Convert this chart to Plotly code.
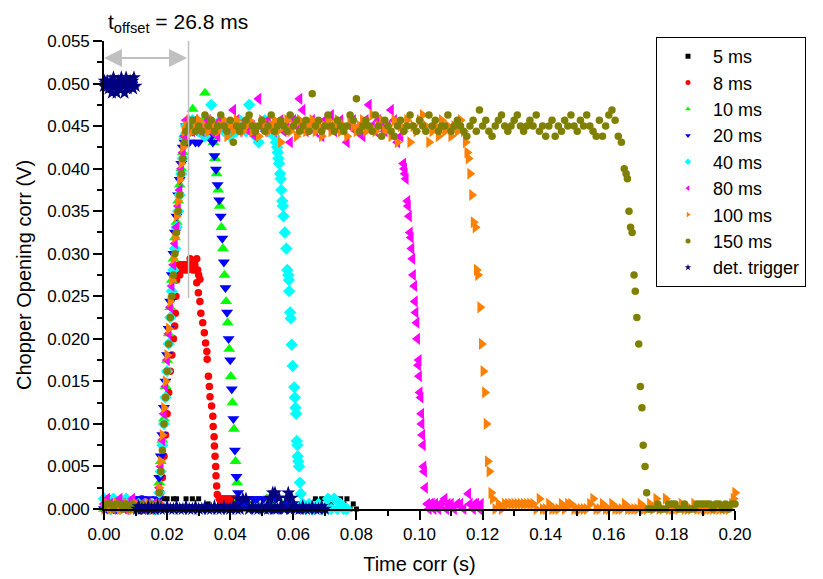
import plotly.graph_objects as go

# ---------------- data: (time in ms, signal in mV) ----------------
pts_5ms = [(0,0),(1,0.6),(2,0),(3,0),(4,0.6),(5,0),(6,0),(7,0.6),(8,0),(9,0),(10,0),(11,0.6),(12,0),(13,0),(14,0),(15,0.6),
    (16,0),(17,0),(18,0),(19,1.2),(20,1.2),(21,0),(22,1.2),(23,1.2),(24,0),(25,0),(26,1.2),(27,0),(28,1.2),(29,0),(30,1.2),
    (31,0),(32,0),(33,0.6),(34,0),(35,0),(36,0),(37,0.6),(38,0),(39,0),(40,0),(41,0),(42,0.6),(43,0),(44,0),(45,0),(46,0),
    (47,0.6),(48,0),(49,0),(50,0),(51,0),(52,0.6),(53,0),(54,0),(55,0),(56,0),(57,0),(58,0.6),(59,0),(60,0),(61,0),(62,0),
    (63,0),(64,0.6),(65,0),(66,0),(67,1.2),(68,0.6),(69,1.2),(70,0),(71,1.2),(72,0.6),(73,1.2),(74,0),(75,1.2),(76,0.6),
    (77,1.2),(78,0),(79,0.6),(80,0)]

pts_8ms = [(0,1.2),(1,0.6),(2,1.2),(3,0),(4,0.6),(5,0),(6,0.6),(7,0),(8,0.6),(9,0),(10,0.6),(11,0),(12,1.2),(13,0.6),(14,0),
    (15,0.6),(16,0),(17,0.6),(17.5,0.6),(18,1.9),(18.5,3.7),(19,6.2),(19.5,8.7),(20,11.2),(20.5,13.7),(21,16.2),(21.5,18.1),
    (22,20.0),(22.4,21.5),(22.6,23.0),(22.8,25.0),(23.0,26.9),(23.3,27.5),(23.6,28.1),(23.8,28.7),(24.0,27.5),(24.3,28.7),
    (24.5,28.1),(25.1,28.7),(25.5,28.1),(25.8,28.7),(26.0,28.7),(26.3,28.7),(26.5,28.1),(27.0,28.7),(27.3,29.4),(27.7,28.7),
    (28.2,28.1),(28.8,28.7),(29.0,28.1),(29.4,29.4),(29.7,28.1),(30.0,27.5),(30.4,27.0),
    (29.4,26.6),(29.9,25.4),(30.4,24.4),(30.7,23.0),(31.3,21.9),(31.8,20.7),(32.2,19.5),(32.6,18.5),(32.7,17.6),(33.1,15.6),
    (33.4,14.4),(33.6,13.2),(34.1,12.1),(34.5,10.9),(34.6,9.7),(34.9,8.5),(35.0,7.4),(35.2,6.2),(35.4,5.0),(35.5,3.9),
    (35.7,2.7),(35.9,1.7),(36.5,1.2),(37,0.6),(37.5,1.2),(38,0),(38.5,1.2),(39,0.6),(39.5,1.2),(40,0),(40.5,1.2),(41,0.6),(41.5,1.2)]

pts_10ms = [(0,0),(1,0.6),(2,0),(3,0),(4,0.6),(5,0),(6,0),(7,0),(8,0.6),(9,0),(10,0),(11,0),(12,0.6),(13,0),(14,0),(15,0.6),
    (16,0),(17.0,0.6),(17.5,3.1),(18.0,5.6),(18.5,8.1),(19.0,10.6),(19.5,14.4),(20.0,17.5),(20.5,20.6),(21.0,23.7),(21.5,26.9),
    (22.0,29.4),(22.5,31.9),(23.0,33.7),(23.5,36.2),(24.0,38.1),(24.5,40.0),(25.0,41.9),(25.5,43.8),
    (26.0,44.4),(26.5,45.0),(27.0,45.7),(27.5,44.4),(28.1,47.0),(28.5,45.0),(29.0,44.4),(29.5,45.7),(30.0,45.0),(30.5,44.4),
    (31.0,45.0),(31.5,45.7),(32.0,48.9),(32.5,45.0),(33.0,44.4),(33.5,43.8),(34.0,43.8),
    (34.7,43.1),(35.2,41.2),(35.7,39.4),(36.2,37.5),(36.7,35.6),(37.2,33.1),(37.7,30.6),(38.2,27.5),(38.7,24.4),(39.2,21.9),
    (39.7,18.8),(40.2,15.6),(40.7,12.5),(41.2,9.4),(41.7,5.6),(42.2,3.1),(42.7,1.2),
    (43.5,0.6),(44.5,0),(45.5,0.6),(46.5,0),(47.5,0),(48.5,0.6),(49.5,0),(50.5,0),(51.6,1.2),(52.5,0),(53.5,0.6),(54.5,0),
    (55.5,0),(56.5,0.6),(57.5,0),(58.5,0),(59.5,0.6)]

pts_20ms = [(0,0),(1,0),(2,0.6),(3,0),(4,0),(5,0),(6,0.6),(7,0),(8,0),(9,0.6),(10,1.2),(11,0.6),(12,1.2),(13,0.6),(14,1.2),
    (15,0.6),(16,0.6),(17.0,1.2),(17.5,3.7),(18.0,6.2),(18.5,8.7),(19.0,11.9),(19.5,15.0),(20.0,18.1),(20.5,21.2),(21.0,24.4),
    (21.5,27.5),(22.0,30.0),(22.5,32.5),(23.0,34.4),(23.5,36.9),(24.0,38.7),(24.5,40.6),(25.0,42.5),(25.5,43.1),
    (26.0,45.0),(26.5,44.4),(27.0,43.1),(27.5,45.0),(28.0,44.4),(28.5,45.7),(29.0,43.1),(29.5,44.4),(30.0,43.1),(30.5,45.0),
    (31.0,44.4),(31.5,43.8),(32.0,45.0),(32.5,44.4),(33.0,43.8),(33.5,44.4),(34.0,43.8),
    (34.5,43.1),(35.0,41.5),(35.5,39.9),(36.0,38.1),(36.5,36.3),(37.0,34.4),(37.5,31.8),(38.0,29.0),(38.5,26.0),(39.0,23.1),
    (39.5,20.0),(40.0,17.5),(40.5,14.1),(41.0,10.6),(41.5,6.9),(42.0,3.8),(42.5,1.9),(43.0,0.6),
    (43.5,1.2),(44.5,0.6),(45.5,1.2),(46.5,0),(47.5,1.2),(48.5,1.2),(49.5,0),(50.5,1.2),(51.5,0),(52.5,1.2),(53.5,0),
    (54.5,1.2),(55.5,0),(56.5,0),(57.5,0.6),(58.5,0),(59.5,0),(60.5,0.6),(61.5,0),(62.5,0)]

pts_40ms = [(0,1.2),(1,0.6),(2,0),(3,1.2),(4,0.6),(5,0),(6,0.6),(7,1.2),(8,0),(9,0.6),(10,0),(11,0.6),(12,0),(13,0.6),(14,0),
    (15,0.6),(16,0),(17.0,0),(17.5,1.9),(18.0,4.4),(18.5,7.5),(19.0,10.0),(19.5,13.1),(20.0,16.2),(20.5,19.4),(21.0,22.5),
    (21.5,25.6),(22.0,28.1),(22.5,30.6),(23.0,33.1),(23.5,35.0),(24.0,36.9),(24.5,39.4),(25.0,41.2),(25.5,43.8),
    (26,45.0),(27,44.4),(28,45.7),(29,45.0),(30,44.4),(31,45.0),(32,43.8),(33,45.7),(34,47.5),(35,44.4),(36,45.0),(37,45.7),
    (38,44.4),(39,45.0),(40,43.8),(41,45.0),(42,44.4),(43,45.7),(44,45.0),(45,44.4),(46,47.5),(47,45.0),(48,43.8),(49,43.1),
    (50,45.0),(51,45.7),(52,44.4),(53,45.0),(54,43.8),
    (54.5,43.1),(54.9,42.5),(55.1,41.9),(55.3,41.2),(55.5,40.6),(55.8,39.4),(56.0,38.8),(56.2,37.5),(56.5,36.2),(56.7,35.6),
    (56.9,34.4),(57.3,32.5),(57.8,30.6),(58.1,28.1),(58.4,27.5),(58.6,26.9),(58.7,25.6),(59.0,23.1),(59.2,22.4),(59.5,19.3),
    (59.8,16.8),(60.3,14.3),(60.5,13.1),(60.7,11.9),(60.9,11.2),(61.1,8.0),(61.3,7.5),(61.4,6.2),(61.6,5.6),(61.8,5.0),
    (62.1,3.1),(62.4,1.8),(63,0.6),(64,0),(65,0.6),(66,0),(67,0),(68,0.6),(69,0),(70,0),(71,1.2),(72,0),(73,1.2),(74,0),
    (75,0.6),(76,0),(77,0)]

pts_80ms = [(0,0.6),(1,1.2),(2,0.6),(3,0),(4,0.6),(5,1.2),(6,0.6),(7,0),(8,0.6),(9,1.2),(10,0.6),(11,0),(12,0.6),(13,0),
    (14,0.6),(15,0),(16,0.6),(17.0,0.6),(17.5,2.5),(18.0,5.0),(18.5,8.1),(19.0,11.2),(19.5,14.4),(20.0,17.5),(20.5,20.6),
    (21.0,23.7),(21.5,26.2),(22.0,28.7),(22.5,31.2),(23.0,33.1),(23.5,35.6),(24.0,37.5),(24.5,40.0),(25.0,41.9),(25.5,43.8),
    (26,45.7),(27,45.0),(28,44.4),(29,45.7),(30,45.0),(31,44.4),(32,45.0),(33,45.7),(34,44.4),(35,45.0),(36,43.8),(37,45.7),
    (38,45.0),(39,44.4),(40,45.0),(41,46.9),(42,45.7),(43,44.4),(44,45.0),(45,45.7),(46,44.4),(47,45.0),(48,43.8),(49,48.2),
    (50,45.0),(51,44.4),(52,45.7),(53,45.0),(54,44.4),(55,45.0),(56,45.7),(57,44.4),(58,45.0),(59,43.1),(60,45.7),(61,45.0),
    (62,48.2),(63,46.9),(64,44.4),(65,45.0),(66,45.7),(67,44.4),(68,45.0),(69,43.8),(70,45.7),(71,45.0),(72,46.3),(73,44.4),
    (74,45.0),(75,45.7),(76,44.4),(77,43.1),(78,45.0),(79,45.7),(80,44.4),(81,45.0),(82,43.8),(83,45.7),(84,47.5),(85,45.0),
    (86,44.4),(87,45.7),(88,45.0),(89,44.4),(90,45.0),(91,46.9),(92,45.7),(93,43.1),(94,43.8),
    (94.9,40.6),(95.2,40.0),(95.4,39.4),(95.7,38.8),(96.2,36.2),(96.4,35.6),(96.7,34.4),(97.0,32.5),(97.3,31.9),(97.5,30.6),
    (97.8,29.4),(98.0,27.5),(98.4,26.2),(98.6,24.4),(98.8,23.1),(99.1,21.9),(99.3,20.0),(99.6,16.9),(99.8,17.5),(99.9,15.6),
    (100.1,13.7),(100.4,13.1),(100.6,11.2),(100.7,10.0),(100.9,8.7),(101.1,7.5),(101.3,5.0),(101.5,4.4),(101.8,2.5),
    (102.5,0.6),(103,0),(103.5,0.6),(104,0.6),(104.5,0),(105,0.6),(106,0),(106.5,0.6),(107,0.6),(108,1.2),(108.5,0),
    (109,0.6),(110,0.6),(111,0),(112,0.6),(113,0.6),(114,0),(115.5,1.8),(116,0.6),(117,0),(117.5,0.6),(118,0.6),(119,0),
    (119.5,0.6)]

pts_100ms = [(0,0),(1,0.6),(2,0),(3,0),(4,0.6),(5,0),(6,0),(7,0.6),(8,0),(9,0),(10,0.6),(11,0),(12,0),(13,0),(14,0.6),(15,0),
    (16,0),(17.0,0),(17.5,2.5),(18.0,5.6),(18.5,8.7),(19.0,11.9),(19.5,15.0),(20.0,18.1),(20.5,21.2),(21.0,24.4),(21.5,26.9),
    (22.0,29.4),(22.5,31.9),(23.0,34.4),(23.5,36.2),(24.0,38.7),(24.5,40.6),(25.0,42.5),(25.5,44.4),
    (26,45.0),(27,45.7),(28,44.4),(29,45.0),(30,45.7),(31,44.4),(32,45.0),(33,44.4),(34,45.7),(35,45.0),(36,44.4),(37,45.0),
    (38,45.7),(39,43.8),(40,45.0),(41,44.4),(42,45.7),(43,45.0),(44,44.4),(45,45.0),(46,45.7),(47,44.4),(48,45.0),(49,43.8),
    (50,45.7),(51,45.0),(52,44.4),(53,45.0),(54,45.7),(55,44.4),(56,43.1),(57,45.0),(58,45.7),(59,44.4),(60,45.0),(61,43.8),
    (62,45.7),(63,45.0),(64,44.4),(65,45.0),(66,45.7),(67,44.4),(68,45.0),(69,43.8),(70,45.0),(71,45.7),(72,44.4),(73,45.0),
    (74,45.7),(75,44.4),(76,45.0),(77,43.8),(78,45.7),(79,45.0),(80,44.4),(81,45.0),(82,45.7),(83,44.4),(84,45.0),(85,46.3),
    (86,44.4),(87,45.0),(88,45.7),(89,44.4),(90,45.0),(91,43.8),(92,45.7),(93,43.1),(94,45.0),(95,44.4),(96,45.7),(97,43.1),
    (98,45.0),(99,44.4),(100,45.7),(101,46.3),(102,45.0),(103,43.1),(104,44.4),(105,45.0),(106,43.8),(107,45.7),(108,44.4),
    (109,45.0),(110,43.8),(111,45.0),(112,44.4),(113,45.7),(114,44.4),
    (114.6,43.1),(115.1,41.9),(115.5,41.2),(116.0,39.4),(116.6,36.9),(117.1,33.7),(117.7,33.1),(118.1,28.1),(118.5,27.5),
    (119.2,23.7),(119.7,19.4),(120.2,16.2),(120.7,13.7),(121.2,10.0),(121.6,5.6),(122.1,4.4),(122.7,1.9),(123.2,1.2),
    (124,0),(125,0.6),(126,0),(127,0.6),(128,0.6),(129,0.6),(130,0.6),(131,0.6),(132,0.6),(133,0.6),(134,0.6),(135,0.6),
    (136,0.6),(137,0),(138,1.2),(139,0),(140,0),(141,0.6),(142,0),(143,0),(144,0),(145,0.6),(146,0),(147,0.6),(148,0.6),
    (149,0),(150,0),(151,0),(152,0),(153,0),(154,0.6),(155,1.2),(156,0),(157,0),(158,0.6),(159,0),(160,0),(161,0.6),(162,0),
    (163,0),(164,0),(165,0.6),(166,0),(167,0),(168,0),(169,0),(170,0.6),(171,0),(172,0),(173,0.6),(174,0),(175,1.2),(176,0),
    (177,0),(178,1.2),(179,0),(180,0),(181,0),(182,0),(183,0.6),(184,0),(185,0),(186,0),(187,0.6),(188,0),(189,0),(190,0),
    (191,0),(192,0),(193,0),(194,0),(195,0),(196,0),(197,0),(198,0),(199,0.6),(199.5,1.2),(200,1.9)]

pts_150ms = [(0,0),(1,0.6),(2,0.6),(3,0),(4,0.6),(5,0.6),(6,0),(7,0.6),(8,0),(9,0.6),(10,0),(11,0),(12,0.6),(13,0),(14,0),
    (15,0.6),(16,0),(17.0,0.6),(17.5,1.9),(18.0,4.4),(18.5,6.9),(19.0,10.0),(19.5,13.1),(20.0,16.2),(20.5,19.4),(21.0,22.5),
    (21.5,25.0),(22.0,27.5),(22.5,30.0),(23.0,32.5),(23.5,35.0),(24.0,36.9),(24.5,39.4),(25.0,41.2),(25.5,43.1),
    (26,44.4),(27,45.0),(28,45.7),(29,44.4),(30,45.0),(31,44.4),(32,46.3),(33,45.0),(34,45.7),(35,44.4),(36,45.0),(37,46.3),
    (38,45.0),(39,44.4),(40,45.7),(41,43.1),(42,45.0),(43,44.4),(44,45.0),(45,45.7),(46,46.3),(47,45.0),(48,44.4),(49,45.0),
    (50,45.7),(51,44.4),(52,45.0),(53,46.3),(54,44.4),(55,45.0),(56,45.7),(57,45.0),(58,44.4),(59,46.3),(60,45.0),(61,45.7),
    (62,44.4),(63,45.0),(64,45.7),(65,44.4),(66,48.8),(67,45.0),(68,45.7),(69,44.4),(70,45.0),(71,46.3),(72,45.0),(73,44.4),
    (74,45.7),(75,45.0),(76,44.4),(77,45.0),(78,46.3),(79,45.7),(80,48.2),(81,44.4),(82,45.0),(83,45.7),(84,45.0),(85,44.4),
    (86,46.3),(87,45.0),(88,43.8),(89,45.7),(90,45.0),(91,44.4),(92,43.8),(93,45.0),(94,45.7),(95,44.4),(96,45.0),(97,46.3),
    (98,45.0),(99,44.4),(100,45.7),(101,45.0),(102,44.4),(103,46.3),(104,45.0),(105,45.7),(106,44.4),(107,45.0),(108,45.0),
    (109,46.3),(110,44.4),(111,45.0),(112,45.7),(113,45.0),(114,44.4),(115,43.8),(116,45.0),(117,45.7),(118,44.4),(119,46.9),
    (120,45.0),(121,45.7),(122,44.4),(123,43.8),(124,45.0),(125,45.7),(126,46.3),(127,45.0),(128,44.4),(129,45.0),(130,45.7),
    (131,46.3),(132,45.0),(133,44.4),(134,45.0),(135,45.7),(136,45.0),(137,46.3),(138,44.4),(139,45.0),(140,43.8),(141,45.0),
    (142,45.7),(143,43.8),(144,45.0),(145,44.4),(146,45.7),(147,45.0),(148,46.3),(149,45.0),(150,44.4),(151,45.7),(152,45.0),
    (153,46.3),(154,45.0),(155,44.4),(156,43.8),(157,45.7),(158,43.8),(159,45.0),(160,46.3),(161,46.9),(162,45.7),(163,43.8),
    (164,43.1),
    (164.9,40.0),(165.5,39.4),(165.9,38.8),(166.4,35.0),(166.9,33.1),(167.4,32.5),(168.0,27.5),(168.4,25.6),(168.9,22.5),
    (169.5,19.4),(170.0,14.4),(170.5,11.9),(170.9,7.5),(171.5,5.0),(172.0,1.9),
    (172.5,0),(173,0),(174,0),(175.5,0.6),(176,0),(177,0),(178,0),(179,0.6),(180,0.6),(181,0.6),(182,0),(183,0),(184,0.6),
    (185,0),(186,0),(187,0),(188,0.6),(189,0.6),(190,0.6),(191,0.6),(192,0.6),(193,0),(194,0.6),(195,0.6),(196,0),(197,0.6),
    (198,0),(199,0.6),(200,0.6)]

pts_trigger = [(0.0,49.7),(0.2,50.3),(0.5,50.0),(1.0,50.3),(1.2,49.7),(1.5,49.4),(2.0,50.0),(2.2,50.3),(2.5,48.9),(3.0,50.7),
    (3.3,50.0),(3.5,49.7),(4.0,48.9),(4.2,49.7),(4.5,50.3),(5.0,49.4),(5.2,50.0),(5.5,50.7),(6.0,50.0),(6.2,49.7),(6.5,48.9),
    (7.0,50.7),(7.3,50.0),(7.5,49.4),(8.0,50.0),(8.3,50.3),(8.5,49.7),(9.0,50.3),(9.2,49.4),(9.5,50.7),(10.0,49.7),
    (10.5,0),(11,0.3),(12,0),(13,0),(14,0.3),(15,0),(16,0),(17,0.3),(18,0),(19,0),(20,0.3),(21,0),(22,0),(23,0.3),(24,0),
    (25,0),(26,0.3),(27,0),(28,0),(29,0.3),(30,0),(31,0),(32,0.3),(33,0),(34,0),(35,0.3),(36,0),(37,0),(38,0.3),(39,0),
    (40,0),(41,0.3),(42,0),(42.5,1.2),(43,0),(44,1.2),(45,1.2),(46,0),(47,0.3),(48,0),(49,0),(50,0.3),(51,0),(52,0),
    (52.6,1.3),(53,0.3),(53.5,1.9),(54,0),(54.2,1.9),(55,0),(55.5,1.3),(56,0.3),(57,0),(58,1.3),(58.4,1.9),(59,0),(59.5,1.3),
    (60,0.3),(61,0),(62,0),(63,0.3),(64,0),(65,0),(66,0.3),(67,0),(68,0),(69,0.3),(70,0)]

series_names = ["5 ms", "8 ms", "10 ms", "20 ms", "40 ms", "80 ms", "100 ms", "150 ms", "det. trigger"]
series_pts = [pts_5ms, pts_8ms, pts_10ms, pts_20ms, pts_40ms, pts_80ms, pts_100ms, pts_150ms, pts_trigger]
series_colors = ["#000000", "#ff0000", "#00ff00", "#0000ff", "#00ffff", "#ff00ff", "#ff8000", "#808000", "#000080"]
series_symbols = ["square", "circle", "triangle-up", "triangle-down", "diamond", "triangle-left",
                  "triangle-right", "circle", "star"]
series_sizes = [5, 7.5, 10.5, 10.5, 9.5, 10.5, 10.5, 7.5, 10.5]

t_offset_ms = 26.8

FONT = "Arial, Liberation Sans, sans-serif"

fig = go.Figure()
for name, pts, col, sym, sz in zip(series_names, series_pts, series_colors, series_symbols, series_sizes):
    fig.add_trace(go.Scatter(
        x=[p[0] / 1000 for p in pts], y=[p[1] / 1000 for p in pts],
        mode="markers", name=name, showlegend=False, cliponaxis=False,
        marker=dict(symbol=sym, size=sz, color=col, line=dict(width=0))))
# legend entries (small symbols as in the original)
for name, col, sym in zip(series_names, series_colors, series_symbols):
    fig.add_trace(go.Scatter(x=[None], y=[None], mode="markers", name=name,
                             marker=dict(symbol=sym, size=5, color=col, line=dict(width=0))))

W, H = 823, 579
ML, MR, MT, MB = 104, 88, 41, 70
pw, ph = W - ML - MR, H - MT - MB

axis_common = dict(showline=True, linecolor="black", linewidth=1.6, ticks="outside", ticklen=9,
                   tickwidth=1.5, tickcolor="black", showgrid=False, zeroline=False, mirror=False,
                   tickfont=dict(family=FONT, size=17, color="black"))

fig.update_layout(
    width=W, height=H, margin=dict(l=ML, r=MR, t=MT, b=MB, autoexpand=False),
    paper_bgcolor="white", plot_bgcolor="white",
    font=dict(family=FONT, color="black"),
    xaxis=dict(range=[0, 0.2], dtick=0.02, tick0=0, tickformat=".2f",
               minor=dict(dtick=0.01, ticks="outside", ticklen=5, tickwidth=1.5, tickcolor="black"),
               title=dict(text="Time corr (s)", font=dict(family=FONT, size=20), standoff=14),
               **axis_common),
    yaxis=dict(range=[0, 0.055], dtick=0.005, tick0=0, tickformat=".3f",
               minor=dict(dtick=0.0025, ticks="outside", ticklen=5, tickwidth=1.5, tickcolor="black"),
               title=dict(text="Chopper Opening corr (V)", font=dict(family=FONT, size=20), standoff=10),
               **axis_common),
    legend=dict(x=(656 - ML) / pw, xanchor="left", y=1 + (MT - 37) / ph, yanchor="top",
                bordercolor="black", borderwidth=1, bgcolor="white",
                font=dict(family=FONT, size=18, color="black"), itemwidth=40, indentation=6),
    showlegend=True,
)

# t_offset marker: vertical line + double arrow
fig.add_shape(type="line", xref="x", yref="y", x0=t_offset_ms / 1000, x1=t_offset_ms / 1000,
              y0=0.0248, y1=0.0556, line=dict(color="#c0c0c0", width=1.5), layer="above")
fig.add_annotation(xref="x", yref="y", axref="x", ayref="y", x=0.0, y=0.053, ax=t_offset_ms / 1000, ay=0.053,
                   text="", showarrow=True, arrowhead=2, startarrowhead=2, arrowside="end+start",
                   arrowsize=1.8, startarrowsize=1.8, arrowwidth=2, arrowcolor="#c0c0c0")
fig.add_annotation(xref="paper", yref="paper", x=(106 - ML) / pw, y=1 + (MT - 38) / ph,
                   xanchor="left", yanchor="bottom", showarrow=False,
                   text="t<sub>offset</sub> = %.1f ms" % t_offset_ms,
                   font=dict(family=FONT, size=21, color="black"))

fig.write_html("out.html")
